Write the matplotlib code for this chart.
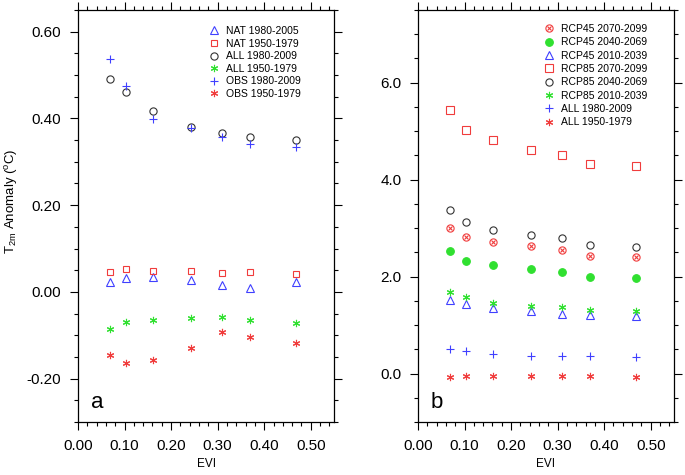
import numpy as np
import matplotlib
matplotlib.use('Agg')
import matplotlib.pyplot as plt
from matplotlib.ticker import MultipleLocator, FormatStrFormatter

plt.rcParams['font.family'] = ['Liberation Sans', 'DejaVu Sans']
plt.rcParams['mathtext.fontset'] = 'custom'
plt.rcParams['mathtext.rm'] = 'Liberation Sans'
plt.rcParams['mathtext.it'] = 'Liberation Sans'

# EVI bins
evi = [0.069, 0.103, 0.162, 0.242, 0.31, 0.37, 0.468]

# panel a
nat_8005 = [0.023, 0.033, 0.034, 0.028, 0.015, 0.008, 0.023]
nat_5079 = [0.046, 0.052, 0.048, 0.048, 0.044, 0.045, 0.041]
all_8009 = [0.491, 0.462, 0.416, 0.381, 0.366, 0.358, 0.350]
all_5079 = [-0.085, -0.069, -0.064, -0.060, -0.059, -0.065, -0.071]
obs_8009 = [0.538, 0.475, 0.398, 0.377, 0.356, 0.340, 0.334]
obs_5079 = [-0.145, -0.165, -0.156, -0.130, -0.092, -0.105, -0.118]

# panel b
rcp45_7099 = [3.01, 2.82, 2.72, 2.63, 2.55, 2.43, 2.41]
rcp45_4069 = [2.52, 2.33, 2.23, 2.15, 2.09, 2.00, 1.97]
rcp45_1039 = [1.52, 1.43, 1.35, 1.28, 1.23, 1.20, 1.19]
rcp85_7099 = [5.43, 5.03, 4.81, 4.62, 4.50, 4.32, 4.28]
rcp85_4069 = [3.38, 3.12, 2.96, 2.85, 2.79, 2.66, 2.62]
rcp85_1039 = [1.69, 1.57, 1.46, 1.39, 1.37, 1.32, 1.30]
allb_8009 = [0.50, 0.47, 0.41, 0.37, 0.37, 0.36, 0.35]
allb_5079 = [-0.08, -0.06, -0.055, -0.055, -0.05, -0.055, -0.07]

BLUE = '#4040ff'
RED = '#f03c3c'
GREEN = '#30e030'
DARK = '#333333'
AST = (6, 2, 0)


def style_axes(ax, ymajor, yminor, fmt):
    ax.set_xlim(0, 0.55)
    ax.xaxis.set_major_locator(MultipleLocator(0.1))
    ax.xaxis.set_minor_locator(MultipleLocator(0.02))
    ax.xaxis.set_major_formatter(FormatStrFormatter('%.2f'))
    ax.yaxis.set_major_locator(MultipleLocator(ymajor))
    ax.yaxis.set_minor_locator(MultipleLocator(yminor))
    ax.yaxis.set_major_formatter(FormatStrFormatter(fmt))
    ax.tick_params(which='both', direction='out', top=True, right=True,
                   labeltop=False, labelright=False, width=0.8)
    ax.tick_params(which='major', length=6, pad=6, labelsize=11)
    ax.tick_params(which='minor', length=3)
    for s in ax.spines.values():
        s.set_linewidth(0.9)
    ax.set_xlabel('EVI', fontsize=8.5, labelpad=4)


def pts(ax, y, marker, color, label, ms=5, filled=False):
    return ax.plot(evi, y, linestyle='none', marker=marker, ms=ms,
                   mec=color, mfc=color if filled else 'none', mew=0.8,
                   label=label)[0]


fig = plt.figure(figsize=(6.85, 4.75), dpi=100)
axa = fig.add_axes([0.1139, 0.1116, 0.3737, 0.8674])
axb = fig.add_axes([0.6102, 0.1116, 0.3737, 0.8674])

# ---- panel a
pts(axa, nat_8005, '^', BLUE, 'NAT 1980-2005', ms=5.2)
pts(axa, nat_5079, 's', RED, 'NAT 1950-1979', ms=5)
pts(axa, all_8009, 'o', DARK, 'ALL 1980-2009', ms=5.2)
pts(axa, all_5079, AST, GREEN, 'ALL 1950-1979', ms=5.2)
pts(axa, obs_8009, '+', BLUE, 'OBS 1980-2009', ms=6.2)
pts(axa, obs_5079, AST, RED, 'OBS 1950-1979', ms=5.2)
axa.set_ylim(-0.3, 0.65)
style_axes(axa, 0.2, 0.05, '%.2f')
axa.set_ylabel('T$_{\\mathrm{2m}}$ Anomaly ($^{\\mathrm{o}}$C)', fontsize=9.5)
axa.yaxis.set_label_coords(-0.225, 0.536)
axa.legend(loc='upper left', bbox_to_anchor=(0.511, 0.961), frameon=False,
           fontsize=7.5, borderpad=0, handlelength=1.0, handletextpad=0.65,
           labelspacing=0.25, borderaxespad=0)
axa.text(0.05, 0.034, 'a', transform=axa.transAxes, fontsize=16,
         ha='left', va='baseline')

# ---- panel b
h1a = pts(axb, rcp45_7099, 'o', RED, None, ms=5.2)
h1b = pts(axb, rcp45_7099, 'x', RED, None, ms=3.2)
h2 = pts(axb, rcp45_4069, 'o', GREEN, None, ms=5.5, filled=True)
h3 = pts(axb, rcp45_1039, '^', BLUE, None, ms=5.2)
h4 = pts(axb, rcp85_7099, 's', RED, None, ms=5.2)
h5 = pts(axb, rcp85_4069, 'o', DARK, None, ms=5.2)
h6 = pts(axb, rcp85_1039, AST, GREEN, None, ms=5.2)
h7 = pts(axb, allb_8009, '+', BLUE, None, ms=6.2)
h8 = pts(axb, allb_5079, AST, RED, None, ms=5.2)
axb.set_ylim(-1.0, 7.5)
style_axes(axb, 2.0, 0.5, '%.1f')
axb.legend([(h1a, h1b), h2, h3, h4, h5, h6, h7, h8],
           ['RCP45 2070-2099', 'RCP45 2040-2069', 'RCP45 2010-2039',
            'RCP85 2070-2099', 'RCP85 2040-2069', 'RCP85 2010-2039',
            'ALL 1980-2009', 'ALL 1950-1979'],
           loc='upper left', bbox_to_anchor=(0.491, 0.966), frameon=False,
           fontsize=7.5, borderpad=0, handlelength=1.0, handletextpad=0.65,
           labelspacing=0.32, borderaxespad=0)
axb.text(0.05, 0.034, 'b', transform=axb.transAxes, fontsize=16,
         ha='left', va='baseline')

fig.savefig('out.png', dpi=100)
